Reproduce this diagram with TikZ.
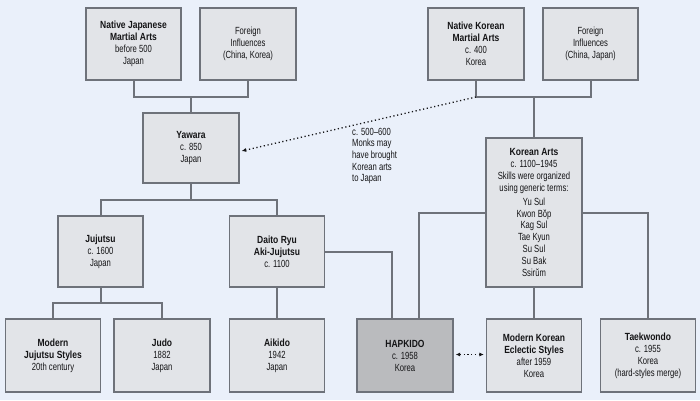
\documentclass[tikz,border=0pt]{standalone}
\usepackage{fontspec}
\setmainfont{Liberation Sans}[FakeStretch=0.74,BoldFeatures={FakeStretch=0.82}]
\usepackage{xcolor}
\definecolor{mabg}{RGB}{234,240,250}
\definecolor{mabox}{RGB}{226,228,232}
\definecolor{mahap}{RGB}{186,187,190}
\definecolor{maline}{RGB}{110,114,122}
\definecolor{matext}{RGB}{20,20,22}
\usepackage{tikz}
\usetikzlibrary{arrows.meta,positioning,calc}
\tikzset{
  box/.style={draw=maline,line width=1.3bp,fill=mabox,align=center,inner sep=2pt,
    minimum width=95bp,minimum height=72bp,text=matext,font=\fontsize{10.4}{12}\selectfont},
  hapbox/.style={box,fill=mahap},
  link/.style={draw=maline,line width=2bp},
  maybe/.style={draw=matext,line width=1.3bp,dash pattern=on 1.2bp off 2.6bp,-{Latex[length=4.5bp,width=4bp]}},
  note/.style={align=left,inner sep=0pt,text=matext,font=\fontsize{10.4}{11.6}\selectfont},
}

\begin{document}
\begin{tikzpicture}[x=1bp,y=-1bp]
\fill[mabg] (0,0) rectangle (700,400);
\useasboundingbox (0,0) rectangle (700,400);
% japanese side
\node[box] (natjp) at (133.5,44) {\textbf{Native Japanese}\\\textbf{Martial Arts}\\before 500\\Japan};
\node[box,minimum width=96bp] (forjp) at (248,44) {Foreign\\Influences\\(China, Korea)};
\node[box,minimum width=96bp,minimum height=70bp] (yawara) at (191,148) {\textbf{Yawara}\\c. 850\\Japan};
\node[box,minimum width=85bp,minimum height=71bp] (jujutsu) at (100.5,251.5) {\textbf{Jujutsu}\\c. 1600\\Japan};
\node[box,minimum height=71bp] (daito) at (277,251.5) {\textbf{Daito Ryu}\\\textbf{Aki-Jujutsu}\\c. 1100};
\node[box,minimum height=73bp] (modjj) at (53,355.5) {\textbf{Modern}\\\textbf{Jujutsu Styles}\\20th century};
\node[box,minimum width=96bp,minimum height=73bp] (judo) at (162,355.5) {\textbf{Judo}\\1882\\Japan};
\node[box,minimum height=73bp] (aikido) at (277,355.5) {\textbf{Aikido}\\1942\\Japan};
% korean side
\node[box,minimum width=96bp] (natko) at (476,44) {\textbf{Native Korean}\\\textbf{Martial Arts}\\c. 400\\Korea};
\node[box] (forko) at (590.5,44) {Foreign\\Influences\\(China, Japan)};
\node[box,minimum width=96bp,minimum height=149bp] (korarts) at (534,212.5) {\textbf{Korean Arts}\\c. 1100--1945\\Skills were organized\\using generic terms:\\[2pt]Yu Sul\\Kwon Bŏp\\Kag Sul\\Tae Kyun\\Su Sul\\Su Bak\\Ssirŭm};
\node[hapbox,minimum width=96bp,minimum height=73bp] (hapkido) at (405,355.5) {\textbf{HAPKIDO}\\c. 1958\\Korea};
\node[box,minimum height=73bp] (modko) at (534,355.5) {\textbf{Modern Korean}\\\textbf{Eclectic Styles}\\after 1959\\Korea};
\node[box,minimum height=73bp] (taekwondo) at (648,355.5) {\textbf{Taekwondo}\\c. 1955\\Korea\\(hard-styles merge)};
\node[note,anchor=north west] (monks) at (352,128) {c. 500--600\\Monks may\\have brought\\Korean arts\\to Japan};
% joints
\coordinate (jpjoin) at (191,97);
\coordinate (kojoin) at (534,97);
\coordinate (yawjoin) at (191,200);
\coordinate (jujjoin) at (100.5,303);
% tree lines
\draw[link] (natjp.south) |- (jpjoin) -| (forjp.south);
\draw[link] (jpjoin) -- (yawara.north);
\draw[link] (yawara.south) -- (yawjoin);
\draw[link] (jujutsu.north) |- (yawjoin) -| (daito.north);
\draw[link] (jujutsu.south) -- (jujjoin);
\draw[link] (modjj.north) |- (jujjoin) -| (judo.north);
\draw[link] (daito.south) -- (aikido.north);
\draw[link] (daito.east) -| ([xshift=-13bp]hapkido.north);
\draw[link] (natko.south) |- (kojoin) -| (forko.south);
\draw[link] (kojoin) -- (korarts.north);
\draw[link] (korarts.west) -| ([xshift=14bp]hapkido.north);
\draw[link] (korarts.south) -- (modko.north);
\draw[link] (korarts.east) -| (taekwondo.north);
% possible influence
\draw[maybe] (natko.south |- kojoin) -- ([xshift=2bp,yshift=-3bp]yawara.east);
\draw[maybe,{Latex[length=4.5bp,width=4bp]}-{Latex[length=4.5bp,width=4bp]}] ([xshift=2bp,yshift=1bp]hapkido.east) -- ([xshift=-2bp,yshift=1bp]modko.west);
\end{tikzpicture}
\end{document}
